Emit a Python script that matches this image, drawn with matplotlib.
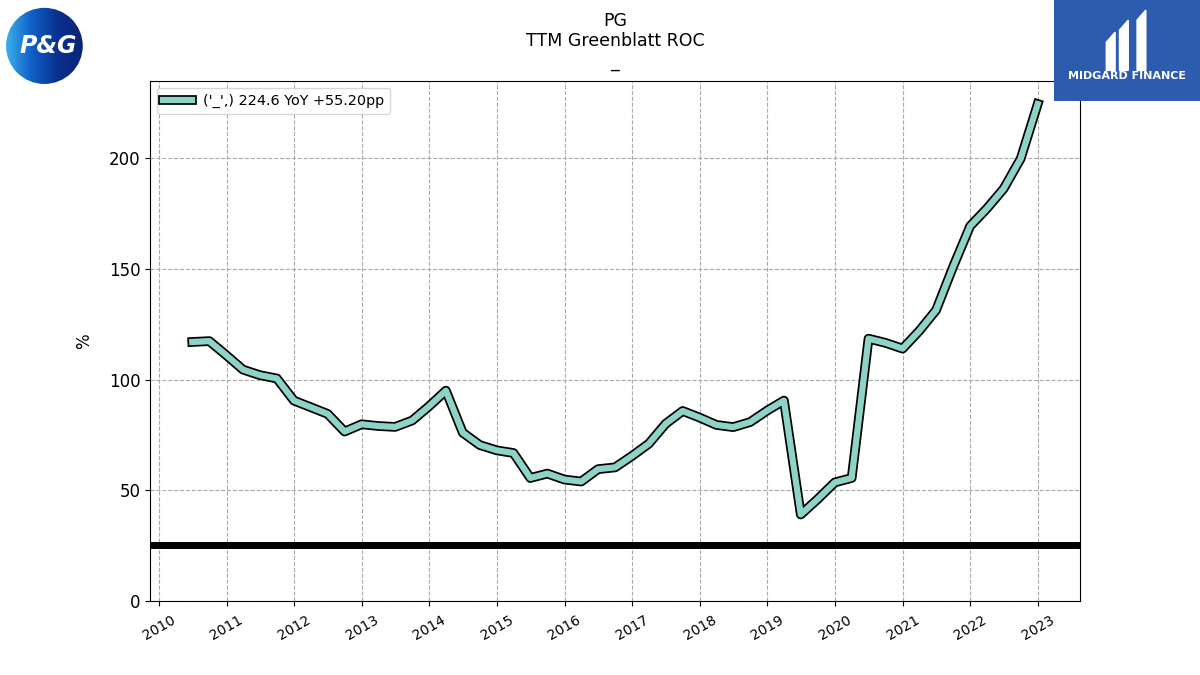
import matplotlib
matplotlib.use("Agg")
import matplotlib.pyplot as plt
import matplotlib.patheffects as pe
import matplotlib.patches as patches
import matplotlib.dates as mdates
import numpy as np
import pandas as pd

# Quarterly TTM Greenblatt ROC (%) for PG
dates = pd.date_range("2010-06-30", "2022-12-31", freq="QE")
roc = [117.0, 117.4, 111.0, 104.5, 102.0, 100.5, 90.5, 87.5, 84.5, 76.5,
       79.8, 79.0, 78.6, 81.5, 88.0, 95.0, 76.0, 70.4, 68.0, 66.8,
       55.5, 57.5, 54.8, 53.9, 59.5, 60.3, 65.5, 71.0, 80.0, 85.8,
       82.8, 79.5, 78.5, 80.8, 86.0, 90.5, 39.0, 46.0, 53.5, 55.5,
       118.5, 116.6, 114.0, 122.0, 131.4, 151.0, 169.4, 177.3, 186.3, 199.9,
       224.6]
threshold = 25
yoy = roc[-1] - roc[-5]
label = "('_',) {:.1f} YoY {:+.2f}pp".format(roc[-1], yoy)


def add_pg_logo(fig):
    ax = fig.add_axes([0.003, 0.872, 0.068, 0.12])
    ax.set_xlim(0, 1)
    ax.set_ylim(0, 1)
    ax.axis("off")
    # horizontal gradient light blue -> navy, clipped to a circle
    grad = np.linspace(0, 1, 256).reshape(1, -1)
    cmap = matplotlib.colors.LinearSegmentedColormap.from_list(
        "pg", ["#3fb6f0", "#1060c8", "#0a2f8c", "#0a2377"])
    im = ax.imshow(grad, extent=[0, 1, 0, 1], cmap=cmap, aspect="auto")
    circ = patches.Circle((0.5, 0.5), 0.47, transform=ax.transAxes)
    im.set_clip_path(circ)
    ax.text(0.55, 0.5, "P&G", color="white", fontsize=17, fontweight="bold",
            fontstyle="italic", ha="center", va="center")


def add_midgard_logo(fig):
    ax = fig.add_axes([0.878, 0.851, 0.122, 0.149])
    ax.set_xlim(0, 1)
    ax.set_ylim(0, 1)
    ax.axis("off")
    ax.add_patch(patches.Rectangle((0, 0), 1, 1, color="#2d5caf"))
    # simple icon: three slanted white bars
    for x0, y0, h in [(0.36, 0.3, 0.38), (0.45, 0.3, 0.5), (0.57, 0.3, 0.6)]:
        ax.add_patch(patches.Polygon([[x0, y0], [x0 + 0.06, y0],
                                      [x0 + 0.06, y0 + h], [x0, y0 + h - 0.1]],
                                     closed=True, color="white"))
    ax.text(0.5, 0.24, "MIDGARD FINANCE", color="white", fontsize=8,
            fontweight="bold", ha="center", va="center")


fig, ax = plt.subplots(figsize=(12, 6.75), dpi=100)

ax.plot(dates, roc, color="#8dd3c7", lw=4.5, label=label,
        path_effects=[pe.Stroke(linewidth=7, foreground="black"), pe.Normal()])
ax.axhline(threshold, color="black", lw=5)

ax.set_ylim(0, 235)
ax.set_ylabel("%", fontsize=12, labelpad=11)
ax.set_title("PG\nTTM Greenblatt ROC\n_", fontsize=12.5, pad=10)
ax.xaxis.set_major_locator(mdates.YearLocator(1))
ax.xaxis.set_major_formatter(mdates.DateFormatter("%Y"))
ax.grid(True, linestyle="--", color="#aaaaaa", lw=0.8)
ax.tick_params(axis="x", labelrotation=30, labelsize=10, pad=5)
ax.tick_params(axis="y", labelsize=12)
ax.legend(loc="upper left", fontsize=10.4)

add_pg_logo(fig)
add_midgard_logo(fig)

plt.savefig("out.png", dpi=100)
